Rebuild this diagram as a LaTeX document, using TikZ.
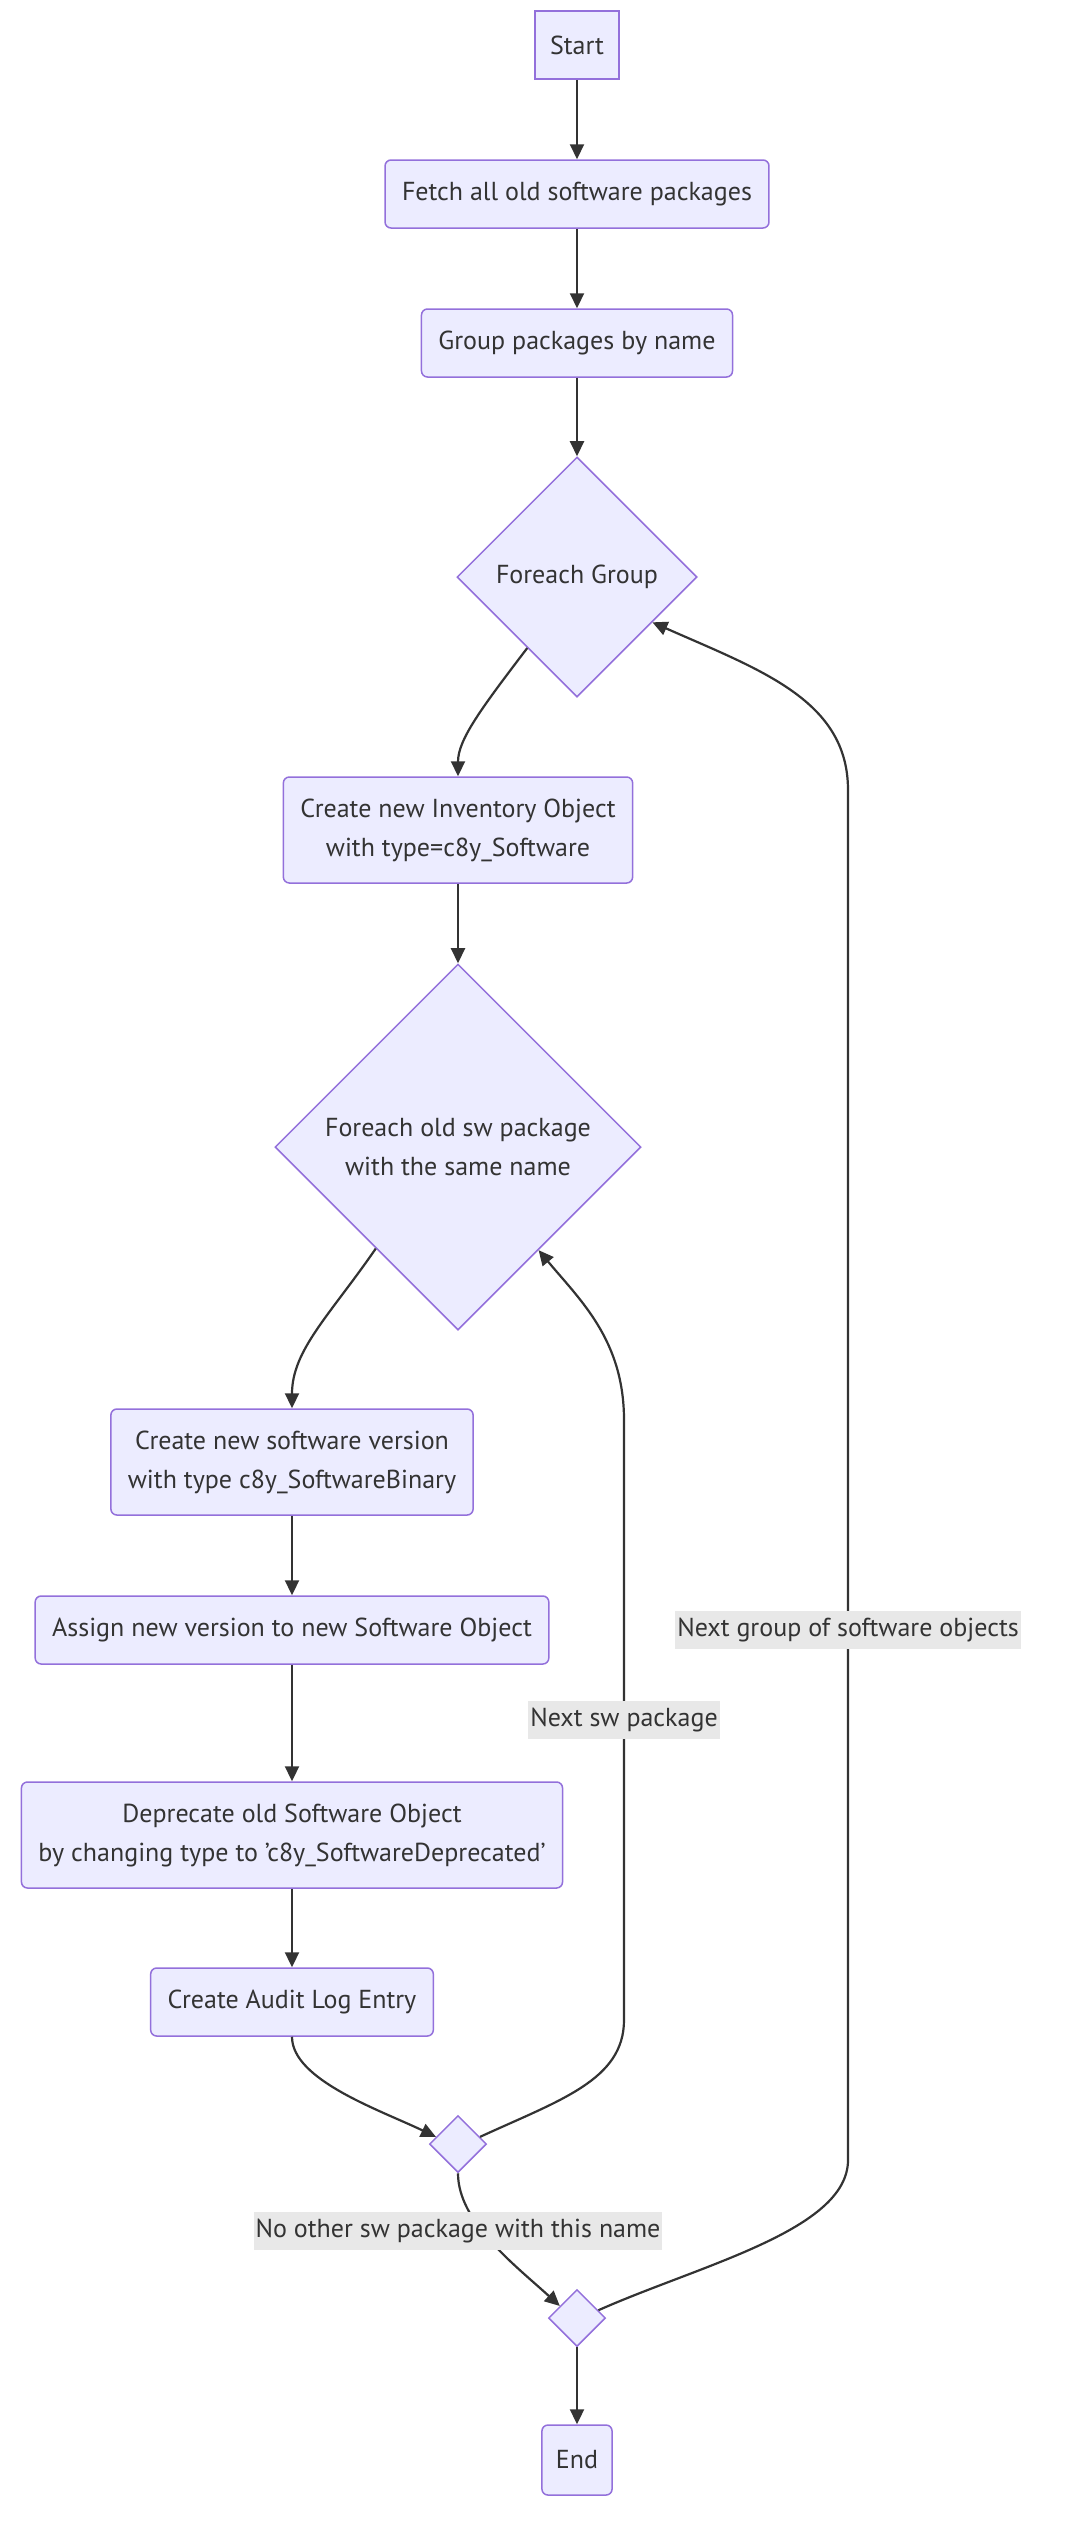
\documentclass[tikz,border=0pt]{standalone}
\usepackage{fontspec}
\setmainfont{PT Sans}
\usetikzlibrary{shapes.geometric,arrows.meta}

\definecolor{knotenfill}{HTML}{ECECFF}
\definecolor{knotenrand}{HTML}{9370DB}
\definecolor{linie}{HTML}{333333}
\definecolor{labelbg}{HTML}{E8E8E8}

\tikzset{
  schritt/.style={draw=knotenrand, fill=knotenfill, line width=1.5pt, rounded corners=6pt,
    align=center, text=linie, minimum height=68, inner xsep=17pt, inner ysep=4pt,
    font=\fontsize{26}{39}\selectfont},
  raute/.style={diamond, aspect=1, draw=knotenrand, fill=knotenfill, line width=1.5pt,
    align=center, text=linie, inner sep=0pt, font=\fontsize{26}{39}\selectfont},
  pfeil/.style={draw=linie, line width=2.2pt, -{Triangle[length=15pt,width=14pt]}},
  kante/.style={fill=labelbg, text=linie, inner xsep=2pt, inner ysep=0pt, minimum height=38,
    font=\fontsize{26}{39}\selectfont}
}

\begin{document}
\begin{tikzpicture}[x=1pt, y=-1pt]
  \useasboundingbox (0,0) rectangle (1084,2540);

  % Knoten
  \node[schritt, sharp corners, inner xsep=15pt] (start) at (577,45) {Start};
  \node[schritt] (holen) at (577,194) {Fetch all old software packages};
  \node[schritt] (gruppe) at (577,343) {Group packages by name};
  \node[raute, minimum size=240] (jeGruppe) at (577,577) {Foreach Group};
  \node[schritt, minimum height=106] (inventar) at (458,830) {Create new Inventory Object\\with type=c8y\_Software};
  \node[raute, minimum size=366] (jePaket) at (458,1147) {Foreach old sw package\\with the same name};
  \node[schritt, minimum height=106] (version) at (292,1462) {Create new software version\\with type c8y\_SoftwareBinary};
  \node[schritt] (zuweisen) at (292,1630) {Assign new version to new Software Object};
  \node[schritt, minimum height=106] (veraltet) at (292,1835) {Deprecate old Software Object\\by changing type to 'c8y\_SoftwareDeprecated'};
  \node[schritt] (audit) at (292,2002) {Create Audit Log Entry};
  \node[raute, minimum size=57] (weiche1) at (458,2144) {};
  \node[raute, minimum size=57] (weiche2) at (577,2318) {};
  \node[schritt, minimum height=70, inner xsep=14pt] (ende) at (577,2460) {End};

  % Verbindungen
  \draw[pfeil] (start) -- (holen);
  \draw[pfeil] (holen) -- (gruppe);
  \draw[pfeil] (gruppe) -- (jeGruppe);
  \draw[pfeil] (jeGruppe.235) .. controls (480,710) and (458,740) .. (inventar.north);
  \draw[pfeil] (inventar) -- (jePaket);
  \draw[pfeil] (jePaket.231) .. controls (330,1315) and (292,1350) .. (version.north);
  \draw[pfeil] (version) -- (zuweisen);
  \draw[pfeil] (zuweisen) -- (veraltet);
  \draw[pfeil] (veraltet) -- (audit);
  \draw[pfeil] (audit.south) .. controls (292,2080) and (380,2110) .. (weiche1.162);

  % Schleife: naechstes Paket
  \draw[pfeil] (weiche1.18) .. controls (560,2100) and (624,2080) .. (624,2020)
    -- node[kante] {Next sw package} (624,1420)
    .. controls (624,1340) and (580,1300) .. (jePaket.-52);

  % keine weiteren Pakete
  \draw[pfeil] (weiche1.south) .. controls (458,2222) and (515,2265) .. (weiche2.145);
  \node[kante] (keinPaket) at (458,2231) {No other sw package with this name};

  % Schleife: naechste Gruppe
  \draw[pfeil] (weiche2.20) .. controls (700,2265) and (848,2230) .. (848,2160)
    -- node[kante, pos=0.387] {Next group of software objects} (848,790)
    .. controls (848,700) and (760,670) .. (jeGruppe.-31);
  \draw[pfeil] (weiche2) -- (ende);

\end{tikzpicture}
\end{document}
